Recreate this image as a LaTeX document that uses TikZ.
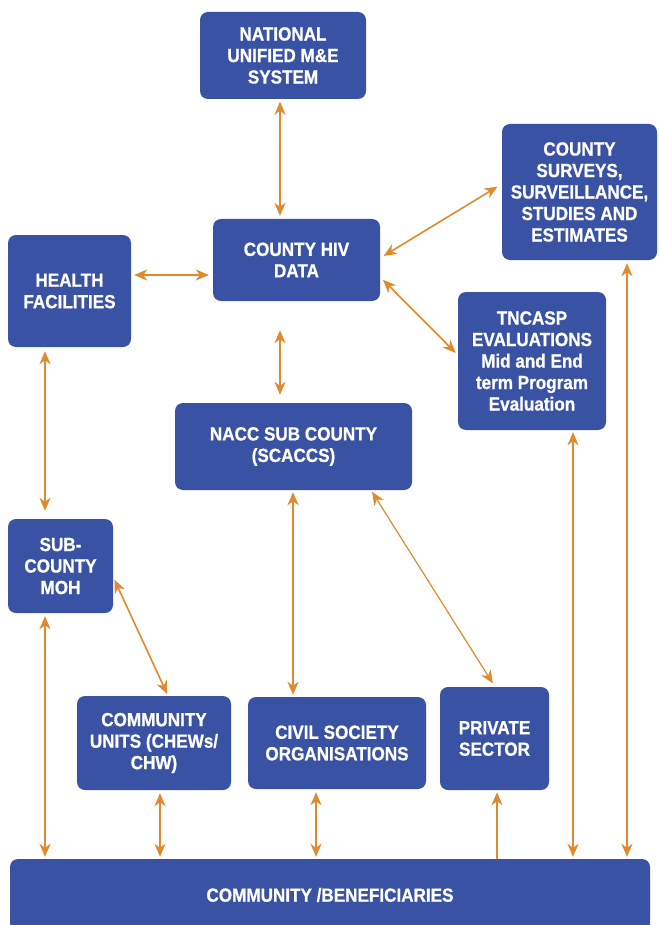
\documentclass[tikz,border=0pt]{standalone}
\usepackage{fontspec}
\newfontfamily\boxfont{Liberation Sans}[FakeStretch=0.9, FakeBold=0.8]
\usetikzlibrary{arrows.meta}
\definecolor{boxblue}{HTML}{3A52A3}
\definecolor{arrorange}{HTML}{DF8A2E}
\tikzset{
  box/.style={draw=none, fill=boxblue, rounded corners=8pt, text=white, align=center, inner sep=0pt,
    font=\boxfont\bfseries\fontsize{19}{21.5}\selectfont},
  arr/.style={draw=arrorange, line width=1.6pt, {Stealth[length=13pt,width=11pt,inset=4pt]}-{Stealth[length=13pt,width=11pt,inset=4pt]}},
  arrthin/.style={arr, line width=1.2pt},
  arrone/.style={draw=arrorange, line width=1.6pt, -{Stealth[length=13pt,width=11pt,inset=4pt]}}
}
\begin{document}
\begin{tikzpicture}[x=1pt,y=1pt]
\useasboundingbox (0,0) rectangle (658,-925);
\clip (0,0) rectangle (658,-925);
\node[box, minimum width=166, minimum height=87] (nat) at (283,-55.5) {NATIONAL\\UNIFIED M\&E\\SYSTEM};
\node[box, minimum width=155, minimum height=136] (surv) at (579.5,-192) {COUNTY\\SURVEYS,\\SURVEILLANCE,\\STUDIES AND\\ESTIMATES};
\node[box, minimum width=167, minimum height=82] (hiv) at (296.5,-260) {COUNTY HIV\\DATA};
\node[box, minimum width=123, minimum height=112] (hf) at (69.5,-291) {HEALTH\\FACILITIES};
\node[box, minimum width=148, minimum height=138] (tnc) at (532,-361) {TNCASP\\EVALUATIONS\\Mid and End\\term Program\\Evaluation};
\node[box, minimum width=237, minimum height=87] (nacc) at (293.5,-446.5) {NACC SUB COUNTY\\(SCACCS)};
\node[box, minimum width=105, minimum height=94] (moh) at (60.5,-566) {SUB-\\COUNTY\\MOH};
\node[box, minimum width=154, minimum height=94] (cu) at (154,-743) {COMMUNITY\\UNITS (CHEWs/\\CHW)};
\node[box, minimum width=178, minimum height=92] (cso) at (337,-743) {CIVIL SOCIETY\\ORGANISATIONS};
\node[box, minimum width=109, minimum height=103] (priv) at (494.5,-738.5) {PRIVATE\\SECTOR};
\node[box, minimum width=640, minimum height=72] (comm) at (330,-895) {COMMUNITY /BENEFICIARIES};

\draw[arr, shorten <=2.5pt, shorten >=3pt] ([xshift=-3]nat.south) -- ([xshift=-16.5]hiv.north);
\draw[arr, shorten <=3pt, shorten >=4pt] ([yshift=16]hf.east) -- ([yshift=-15]hiv.west);
\draw[arr, shorten <=4pt, shorten >=5pt] ([yshift=2]hiv.east) -- ([yshift=8]surv.west);
\draw[arr, shorten <=4pt, shorten >=3pt] ([yshift=-17]hiv.east) -- ([yshift=6]tnc.west);
\draw[arr, shorten <=29pt, shorten >=8pt] ([xshift=-16.5]hiv.south) -- ([xshift=-13.5]nacc.north);
\draw[arr, shorten <=4pt, shorten >=8pt] ([xshift=-24.5]hf.south) -- ([xshift=-15.5]moh.north);
\draw[arr, shorten <=3pt, shorten >=2pt] ([yshift=-11]moh.east) -- ([xshift=14]cu.north);
\draw[arr, shorten <=2pt, shorten >=2pt] ([xshift=-0.5]nacc.south) -- ([xshift=-44]cso.north);
\draw[arrthin, shorten <=2pt, shorten >=4pt] ([xshift=77.5]nacc.south) -- ([xshift=0.5]priv.north);
\draw[arr, shorten <=3pt, shorten >=2pt] ([xshift=-15.5]moh.south) -- ([xshift=-285]comm.north);
\draw[arr, shorten <=3pt, shorten >=2pt] ([xshift=6]cu.south) -- ([xshift=-170]comm.north);
\draw[arr, shorten <=3pt, shorten >=2pt] ([xshift=-21]cso.south) -- ([xshift=-14]comm.north);
\draw[arrone, shorten >=2pt] ([xshift=167]comm.north) -- ([xshift=2.5]priv.south);
\draw[arrthin, shorten <=2pt, shorten >=2pt] ([xshift=41]tnc.south) -- ([xshift=243]comm.north);
\draw[arrthin, shorten <=3pt, shorten >=2pt] ([xshift=47.5]surv.south) -- ([xshift=297]comm.north);
\end{tikzpicture}
\end{document}
